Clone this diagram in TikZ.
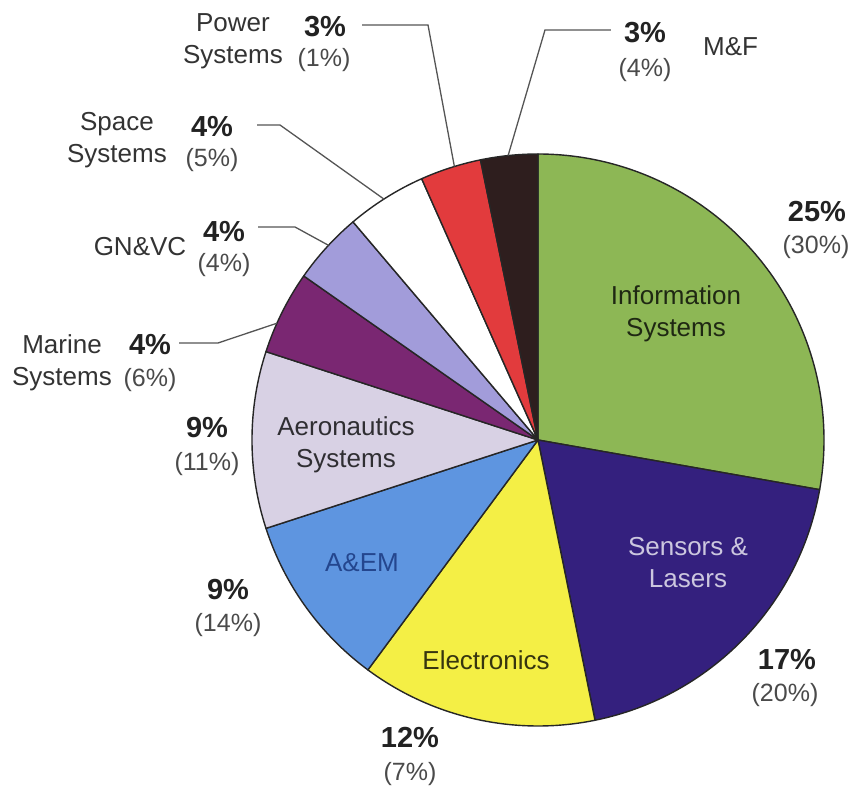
\documentclass[tikz,border=0pt]{standalone}
\usepackage{fontspec}
\setmainfont{Liberation Sans}
\usepackage{tikz}
\definecolor{infogreen}{HTML}{8DB755}
\definecolor{sensorblue}{HTML}{34207E}
\definecolor{elecyellow}{HTML}{F4EF45}
\definecolor{aemblue}{HTML}{5E95E0}
\definecolor{aemtext}{HTML}{24468E}
\definecolor{aerolilac}{HTML}{D8D1E4}
\definecolor{marinepurple}{HTML}{7A2772}
\definecolor{gnvclav}{HTML}{A29CDA}
\definecolor{powerred}{HTML}{E23B3D}
\definecolor{mfbrown}{HTML}{2E1E1E}
\definecolor{labelgray}{HTML}{333333}
\definecolor{pctblack}{HTML}{222222}
\definecolor{sharegray}{HTML}{4A4A4A}
\definecolor{leadgray}{HTML}{555555}
\newcommand\pierad[0]{286}

\begin{document}
\begin{tikzpicture}[x=1pt,y=1pt,
	slice/.style={draw=black!85, line width=1.4pt, line join=round},
	segname/.style={font=\fontsize{26}{32}\selectfont, text=labelgray, align=center, inner sep=0pt},
	pct/.style={font=\fontsize{29}{32}\selectfont\bfseries, text=pctblack, inner sep=0pt},
	share/.style={font=\fontsize{25}{30}\selectfont, text=sharegray, inner sep=0pt},
	leader/.style={draw=leadgray, line width=1.3pt}]

	\useasboundingbox (-538,-347) rectangle (313,440);

	% slices
	\foreach \a/\b/\col in {90/-10/infogreen, -10/-78.5/sensorblue, -78.5/-126.5/elecyellow,
		-126.5/-162/aemblue, 198/162/aerolilac, 162/145/marinepurple, 145/130.3/gnvclav,
		130.3/114/white, 114/101.6/powerred, 101.6/90/mfbrown} {
		\filldraw [slice, fill=\col] (0,0) -- (\a:\pierad) arc[start angle=\a, end angle=\b, radius=\pierad] -- cycle;
	}

	% labels inside
	\node[segname, text=black!78!infogreen] (info) at (138,126) {Information\\Systems};
	\node[segname, text=sensorblue!25!white] (sensors) at (150,-123) {Sensors \&\\Lasers};
	\node[segname, text=black!78!elecyellow] (elec) at (-52,-220) {Electronics};
	\node[segname, text=aemtext] (aem) at (-176,-123) {A\&EM};
	\node[segname, text=black!78!aerolilac] (aero) at (-192,-5) {Aeronautics\\Systems};

	% shares, right and bottom
	\node[pct] (infopct) at (279,228) {25\%};
	\node[share] (infoshare) at (278,193) {(30\%)};
	\node[pct] (sensorspct) at (249,-220) {17\%};
	\node[share] (sensorsshare) at (247,-255) {(20\%)};
	\node[pct] (elecpct) at (-128,-297) {12\%};
	\node[share] (elecshare) at (-128,-334) {(7\%)};
	\node[pct] (aempct) at (-310,-150) {9\%};
	\node[share] (aemshare) at (-310,-185) {(14\%)};
	\node[pct] (aeropct) at (-331,12) {9\%};
	\node[share] (aeroshare) at (-331,-24) {(11\%)};

	% small slices with names
	\node[segname] (marine) at (-476,77) {Marine\\Systems};
	\node[pct] (marinepct) at (-388,95) {4\%};
	\node[share] (marineshare) at (-388,60) {(6\%)};
	\node[segname] (gnvc) at (-398,193) {GN\&VC};
	\node[pct] (gnvcpct) at (-314,208) {4\%};
	\node[share] (gnvcshare) at (-314,175) {(4\%)};
	\node[segname] (space) at (-421,300) {Space\\Systems};
	\node[pct] (spacepct) at (-326,313) {4\%};
	\node[share] (spaceshare) at (-326,280) {(5\%)};
	\node[segname] (power) at (-305,399) {Power\\Systems};
	\node[pct] (powerpct) at (-213,413) {3\%};
	\node[share] (powershare) at (-214,380) {(1\%)};
	\node[pct] (mfpct) at (107,407) {3\%};
	\node[share] (mfshare) at (107,370) {(4\%)};
	\node[segname, anchor=west] (mf) at (165,393) {M\&F};

	% leaders
	\coordinate (marinebend) at (-320,97);
	\coordinate (gnvcbend) at (-243,213);
	\coordinate (spacebend) at (-258,315);
	\coordinate (powerbend) at (-110,415);
	\coordinate (mfbend) at (7,410);
	\coordinate (marineedge) at (155.9:\pierad);
	\coordinate (gnvcedge) at (137.1:\pierad);
	\coordinate (spaceedge) at (122.6:\pierad);
	\coordinate (poweredge) at (107:\pierad);
	\coordinate (mfedge) at (96:\pierad);
	\draw [leader] ([xshift=8pt]marinepct.east |- marinebend) -- (marinebend) -- (marineedge);
	\draw [leader] ([xshift=13pt]gnvcpct.east |- gnvcbend) -- (gnvcbend) -- (gnvcedge);
	\draw [leader] ([xshift=24pt]spacepct.east |- spacebend) -- (spacebend) -- (spaceedge);
	\draw [leader] ([xshift=16pt]powerpct.east |- powerbend) -- (powerbend) -- (poweredge);
	\draw [leader] ([xshift=-13pt]mfpct.west |- mfbend) -- (mfbend) -- (mfedge);
\end{tikzpicture}
\end{document}
